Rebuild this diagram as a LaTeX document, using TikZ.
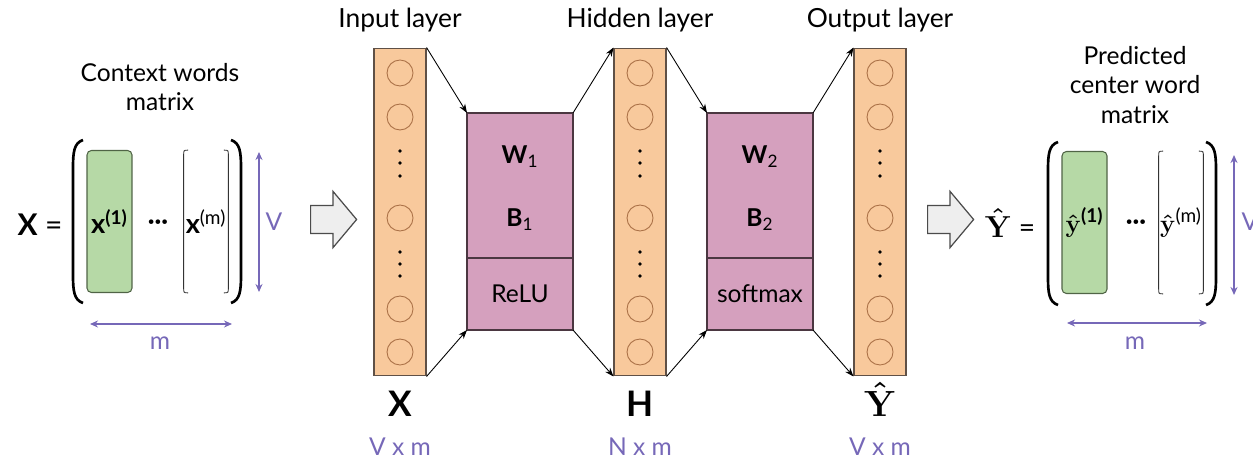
\documentclass[tikz,border=0pt]{standalone}
\usepackage{amsmath}
\usepackage[no-math]{fontspec}
\setmainfont{Lato}
\usepackage{tikz}
\usetikzlibrary{arrows.meta,positioning,shapes.arrows}

\definecolor{layerfill}{RGB}{248,201,156}
\definecolor{layerline}{RGB}{95,80,70}
\definecolor{neuronline}{RGB}{170,112,70}
\definecolor{pinkfill}{RGB}{213,160,190}
\definecolor{pinkline}{RGB}{75,55,65}
\definecolor{greenfill}{RGB}{182,217,166}
\definecolor{greenline}{RGB}{80,100,70}
\definecolor{dimcol}{RGB}{118,104,184}
\definecolor{blockfill}{RGB}{238,238,238}
\definecolor{blockline}{RGB}{75,75,75}

\begin{document}
\begin{tikzpicture}[
    x=0.02cm, y=-0.02cm,
    font=\fontsize{14}{17}\selectfont,
    layer/.style={draw=layerline, fill=layerfill, line width=0.6pt, minimum width=1.04cm, minimum height=6.56cm, inner sep=0pt},
    neuron/.style={circle, draw=neuronline, line width=0.5pt, minimum size=0.52cm, inner sep=0pt},
    wbox/.style={draw=pinkline, fill=pinkfill, line width=0.6pt, minimum width=2.12cm, inner sep=0pt, outer sep=0pt},
    title/.style={font=\fontsize{15}{18}\selectfont, inner sep=0pt},
    big/.style={font=\fontsize{20}{24}\selectfont\bfseries, inner sep=0pt, anchor=base},
    dim/.style={text=dimcol, inner sep=0pt},
    arrow/.style={-{Stealth[length=1.8mm, width=1.3mm]}, line width=0.5pt},
    dimarrow/.style={{Stealth[length=1.6mm, width=1.4mm]}-{Stealth[length=1.6mm, width=1.4mm]}, draw=dimcol, line width=0.8pt},
    fwd/.style={single arrow, draw=blockline, fill=blockfill, line width=0.7pt, minimum height=0.92cm, inner xsep=0pt, inner ysep=0.27cm, single arrow head extend=0.28cm, single arrow tip angle=100, anchor=tail},
    vec/.style={draw=greenline, fill=greenfill, rounded corners=2.5pt, line width=0.6pt, minimum width=0.9cm, minimum height=2.84cm, inner sep=0pt, font=\fontsize{15.5}{18}\selectfont},
    vecm/.style={minimum width=0.88cm, minimum height=2.84cm, inner sep=0pt, font=\fontsize{15.5}{18}\selectfont},
    paren/.style={line width=1.5pt},
    thin/.style={line width=0.5pt, draw=black!80},
    node distance=3mm
]
\useasboundingbox (0,0) rectangle (1253,459);

% layers
\node[layer] (inL) at (400,212) {};
\node[layer] (hid) at (640,212) {};
\node[layer] (outL) at (880,212) {};
\foreach \x in {400,640,880} {
  \foreach \y in {73,117,218,309,352}
    \node[neuron] (n-\x-\y) at (\x,\y) {};
  \foreach \y in {151,163,176,252,264,276}
    \fill (\x,\y) circle[radius=1.1pt];
}
\node[title, above=0.3cm of inL] (tIn) {Input layer};
\node[title, above=0.3cm of hid] (tHid) {Hidden layer};
\node[title, above=0.3cm of outL] (tOut) {Output layer};

\node[big] (lX) at (400,416) {X};
\node[big] (lH) at (640,416) {H};
\node[big] (lY) at (880,416) {$\boldsymbol{\hat{\mathbf{Y}}}$};
\node[dim, anchor=base] (sX) at (400,455) {V x m};
\node[dim, anchor=base] (sH) at (640,455) {N x m};
\node[dim, anchor=base] (sY) at (880,455) {V x m};

% weights
\node[wbox, minimum height=2.9cm] (wb1) at (520,185.5) {};
\node[wbox, minimum height=1.44cm, below=0pt of wb1] (act1) {ReLU};
\node (w1) at (520,157) {\textbf{W}\textsubscript{1}};
\node (b1) at (520,220) {\textbf{B}\textsubscript{1}};
\node[wbox, minimum height=2.9cm] (wb2) at (760,185.5) {};
\node[wbox, minimum height=1.44cm, below=0pt of wb2] (act2) {softmax};
\node (w2) at (760,157) {\textbf{W}\textsubscript{2}};
\node (b2) at (760,220) {\textbf{B}\textsubscript{2}};

\foreach \i/\j in {inL.north east/wb1.north west, wb1.north east/hid.north west,
                   inL.south east/act1.south west, act1.south east/hid.south west,
                   hid.north east/wb2.north west, wb2.north east/outL.north west,
                   hid.south east/act2.south west, act2.south east/outL.south west}
  \draw[arrow] (\i) -- (\j);

% block arrows
\node[fwd] (fwdL) at (310,219.5) {};
\node[fwd] (fwdR) at (927,219.5) {};

% context words matrix
\node[align=center] (ctx) at (160,87) {Context words\\matrix};
\node[font=\fontsize{17}{20}\selectfont] (eqX) at (40,225) {\textbf{X} =};
\node[vec] (x1) at (109.5,221.5) {\textbf{x}\textsuperscript{\textbf{(1)}}};
\node (dX) at (158,225) {\textbf{···}};
\node[vecm] (xm) at (206,221.5) {\textbf{x}\textsuperscript{(m)}};
\draw[thin] ([xshift=2.5pt]xm.north west) .. controls (xm.north west) .. ([yshift=-3pt]xm.north west)
  -- ([yshift=3pt]xm.south west) .. controls (xm.south west) .. ([xshift=2.5pt]xm.south west);
\draw[thin] ([xshift=-2.5pt]xm.north east) .. controls (xm.north east) .. ([yshift=-3pt]xm.north east)
  -- ([yshift=3pt]xm.south east) .. controls (xm.south east) .. ([xshift=-2.5pt]xm.south east);
\draw[paren] (83,140) .. controls (74,143) and (73,152) .. (73,168) -- (73,275) .. controls (73,291) and (74,300) .. (83,303);
\draw[paren] (231,140) .. controls (240,143) and (241,152) .. (241,168) -- (241,275) .. controls (241,291) and (240,300) .. (231,303);
\coordinate (vXt) at (259,152);
\coordinate (vXb) at (259,292);
\draw[dimarrow] (vXt) -- (vXb);
\node[dim] (vX) at (274,222) {V};
\coordinate (mXl) at (90,324);
\coordinate (mXr) at (232,324);
\draw[dimarrow] (mXl) -- (mXr);
\node[dim] (mX) at (160,343) {m};

% predicted center word matrix
\node[align=center] (pred) at (1135,85) {Predicted\\center word\\matrix};
\node[font=\fontsize{16}{19}\selectfont] (eqY) at (1010,223) {$\boldsymbol{\hat{\mathbf{Y}}}$ =};
\node[vec] (y1) at (1084.5,222.5) {$\boldsymbol{\hat{\mathbf{y}}}$\textsuperscript{\textbf{(1)}}};
\node (dY) at (1136,225) {\textbf{···}};
\node[vecm] (ym) at (1181,222.5) {$\boldsymbol{\hat{\mathbf{y}}}$\textsuperscript{(m)}};
\draw[thin] ([xshift=2.5pt]ym.north west) .. controls (ym.north west) .. ([yshift=-3pt]ym.north west)
  -- ([yshift=3pt]ym.south west) .. controls (ym.south west) .. ([xshift=2.5pt]ym.south west);
\draw[thin] ([xshift=-2.5pt]ym.north east) .. controls (ym.north east) .. ([yshift=-3pt]ym.north east)
  -- ([yshift=3pt]ym.south east) .. controls (ym.south east) .. ([xshift=-2.5pt]ym.south east);
\draw[paren] (1058,142) .. controls (1049,145) and (1048,154) .. (1048,170) -- (1048,277) .. controls (1048,293) and (1049,302) .. (1058,305);
\draw[paren] (1206,142) .. controls (1215,145) and (1216,154) .. (1216,170) -- (1216,277) .. controls (1216,293) and (1215,302) .. (1206,305);
\coordinate (vYt) at (1234,155);
\coordinate (vYb) at (1234,295);
\draw[dimarrow] (vYt) -- (vYb);
\node[dim] (vY) at (1250,222) {V};
\coordinate (mYl) at (1067,323);
\coordinate (mYr) at (1207,323);
\draw[dimarrow] (mYl) -- (mYr);
\node[dim] (mY) at (1135,343) {m};
\end{tikzpicture}
\end{document}
